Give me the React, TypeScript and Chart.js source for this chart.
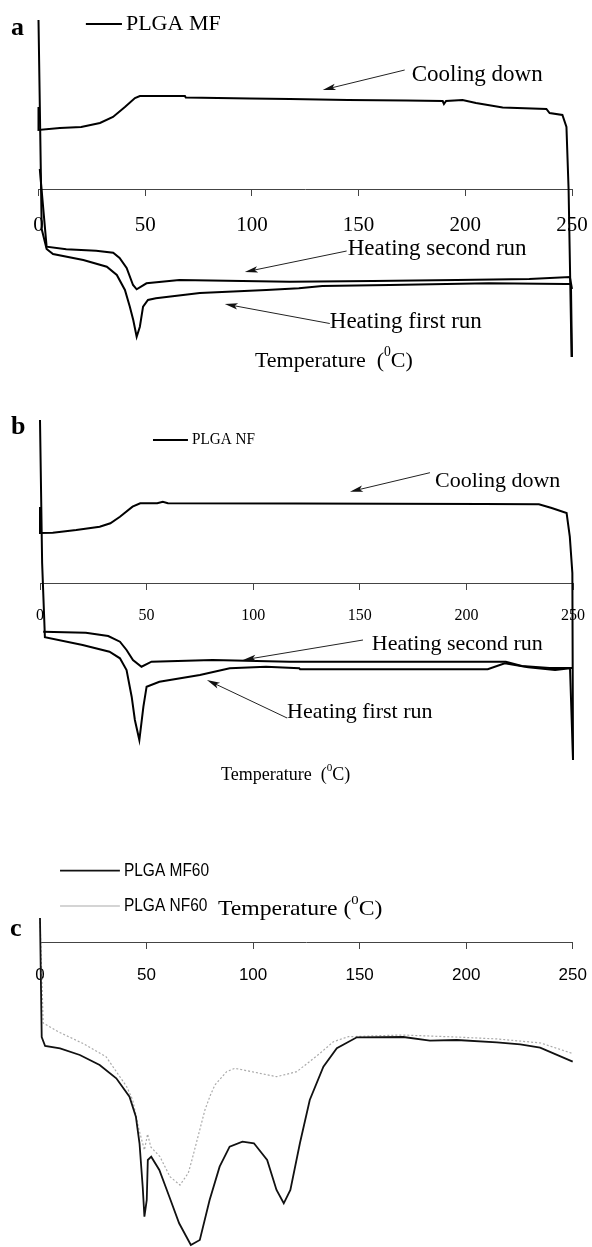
import React, { useEffect, useRef } from "react";
import { Chart, registerables } from "chart.js";

Chart.register(...registerables);

type Pt = [number, number];

// Temperature axis (°C)
const temperatureMin = 0;
const temperatureMax = 250;
const temperatureStep = 50;

// Heat flow is in arbitrary units; 0 lies on the temperature axis, endotherm down.

// (a) PLGA MF
const mfCooling: Pt[] = [
  [0, 82], [0, 59], [10, 61], [20, 62], [28.8, 66], [34.9, 72], [40.5, 82], [45.2, 91], [47.5, 93],
  [68.6, 93], [69, 91.5], [99, 90.5], [117.7, 90], [145, 89], [172.5, 88.5], [189.4, 88], [190, 85],
  [191, 88], [198.7, 89], [205, 86], [217.5, 81.5], [238, 80], [239.5, 76], [245.5, 74], [247.4, 62],
  [248.4, 0], [249.8, -168],
];
const mfHeatingSecond: Pt[] = [
  [0.6, 20], [3.8, -57.7], [13, -60.3], [27, -61.7], [35, -63.7], [38, -69], [41.3, -79], [44.3, -96],
  [46, -100.3], [50.6, -94.3], [66, -91], [117.7, -92.7], [156.6, -92], [196, -91], [230, -90],
  [249, -88], [250, -100],
];
const mfHeatingFirst: Pt[] = [
  [0, 169], [1.5, -40], [3.8, -60], [6.8, -65], [21, -71], [32, -77.7], [36.7, -86], [40.5, -101],
  [42.8, -117.7], [44.4, -131], [46, -147.7], [47.5, -137.7], [49, -117.7], [51.3, -111], [55, -109.3],
  [75.6, -104], [106.8, -101], [122, -99.3], [133, -97], [164.6, -96], [211, -94.3], [247, -95],
  [249.5, -95], [250, -168],
];

// (b) PLGA NF
const nfCooling: Pt[] = [
  [0, 76], [0, 50], [6, 50.3], [17, 53], [28, 56.3], [33, 59.7], [37.5, 66.3], [43.4, 76.3], [47, 79.7],
  [55, 79.7], [57.6, 81.3], [60, 79.7], [120, 79.5], [207.5, 79], [234, 78.7], [240, 75], [247, 70],
  [248.5, 46.3], [249.7, 10], [250, -177],
];
const nfHeatingSecond: Pt[] = [
  [1.5, -48.7], [21.5, -49.7], [32, -53], [37.5, -58.7], [40.6, -67], [43.6, -77], [47.6, -83.7],
  [52.3, -78.7], [81, -77], [117, -78.7], [218.5, -78.7], [226, -83], [239, -85], [250, -85],
];
const nfHeatingFirst: Pt[] = [
  [0, 163], [1, 20], [2.3, -54.3], [20, -62], [32.6, -68.7], [37.5, -75.3], [40.6, -87], [43, -113.7],
  [44.5, -137], [46.6, -157], [48.5, -123.7], [50, -103.7], [56, -98.7], [75, -92], [89, -85.3],
  [106, -83.7], [121.6, -85.3], [122, -86.3], [210, -86.3], [218, -80.3], [229, -84.3], [241.6, -87],
  [248.6, -85.3], [250, -177],
];

// (c) PLGA MF60 / NF60
const mf60: Pt[] = [
  [0, 24], [0.8, -95], [2.4, -104], [9.4, -106.3], [18.7, -113], [28, -123], [35.8, -136.3], [42, -154.7],
  [45, -174.7], [46.7, -201.3], [48.2, -244.7], [49, -274.7], [50.1, -258], [50.6, -218], [52.2, -214.7],
  [56, -228], [60.7, -254.7], [65.3, -281.3], [70.8, -303], [75, -298], [79.6, -258], [84.3, -224.7],
  [89, -204.7], [95, -199.7], [100.4, -201.3], [106.6, -218], [111, -248], [114.4, -261.3], [117.5, -248],
  [122, -201], [126.6, -158], [133, -124.7], [139.3, -106.3], [148.7, -95.3], [170.5, -95], [183, -98.7],
  [195.6, -98], [214.4, -100.3], [225.4, -102.3], [234.7, -105.7], [250, -119.7],
];
const nf60: Pt[] = [
  [0, 24], [1.5, -81], [8.5, -89.7], [20, -101.3], [31, -114.7], [40.7, -144.7], [43.5, -158], [46.5, -188],
  [49, -208], [50.5, -192], [52, -205], [56.3, -214.7], [61, -234.7], [65.7, -243], [69.6, -231],
  [71.3, -218], [77.4, -168], [80, -153], [82.1, -143], [87.6, -129.7], [91.5, -126.3], [111, -134.7],
  [120.5, -129.7], [131.4, -111.3], [137.7, -99.7], [144.7, -94.7], [170, -93], [195, -95], [215, -97],
  [235, -101], [249.6, -111.3],
];

const SERIF = "'Liberation Serif', 'Times New Roman', serif";
const SANS = "'Liberation Sans', Arial, sans-serif";

type Part = { t: string; sup?: boolean };
type Note =
  | { kind: "text"; x: number; y: number; parts: Part[]; family: string; size: number; bold?: boolean; sx?: number }
  | { kind: "arrow"; x1: number; y1: number; x2: number; y2: number }
  | { kind: "key"; x1: number; x2: number; y: number; ds: number; text: string; family: string; size: number; sx?: number };

const tempLabel: Part[] = [{ t: "Temperature  (" }, { t: "0", sup: true }, { t: "C)" }];

function drawParts(
  ctx: CanvasRenderingContext2D, x: number, y: number, parts: Part[], family: string, size: number,
  bold?: boolean, sx = 1,
) {
  ctx.save();
  ctx.translate(x, y);
  ctx.scale(sx, 1);
  let cx = 0;
  ctx.textBaseline = "middle";
  ctx.textAlign = "left";
  ctx.fillStyle = "#000";
  for (const p of parts) {
    const s = p.sup ? size * 0.62 : size;
    ctx.font = `${bold ? "bold " : ""}${s}px ${family}`;
    ctx.fillText(p.t, cx, p.sup ? -size * 0.38 : 0);
    cx += ctx.measureText(p.t).width;
  }
  ctx.restore();
}

function notesPlugin(notes: Note[]) {
  return {
    id: "notes",
    afterDraw(chart: any) {
      const ctx: CanvasRenderingContext2D = chart.ctx;
      const xs = chart.scales.x;
      const ys = chart.scales.y;
      const px = (v: number) => xs.getPixelForValue(v);
      const py = (v: number) => ys.getPixelForValue(v);
      ctx.save();
      for (const n of notes) {
        if (n.kind === "arrow") {
          const x1 = px(n.x1), y1 = py(n.y1), x2 = px(n.x2), y2 = py(n.y2);
          const a = Math.atan2(y2 - y1, x2 - x1);
          const L = 13, W = 3.2;
          ctx.strokeStyle = "#222";
          ctx.lineWidth = 1;
          ctx.beginPath();
          ctx.moveTo(x1, y1);
          ctx.lineTo(x2 - Math.cos(a) * 6, y2 - Math.sin(a) * 6);
          ctx.stroke();
          ctx.fillStyle = "#111";
          ctx.beginPath();
          ctx.moveTo(x2, y2);
          ctx.lineTo(x2 - L * Math.cos(a) + W * Math.sin(a), y2 - L * Math.sin(a) - W * Math.cos(a));
          ctx.lineTo(x2 - (L - 3) * Math.cos(a), y2 - (L - 3) * Math.sin(a));
          ctx.lineTo(x2 - L * Math.cos(a) - W * Math.sin(a), y2 - L * Math.sin(a) + W * Math.cos(a));
          ctx.closePath();
          ctx.fill();
        } else if (n.kind === "key") {
          const ds = chart.data.datasets[n.ds];
          ctx.strokeStyle = ds.borderColor;
          ctx.lineWidth = ds.borderWidth;
          ctx.setLineDash([]);
          ctx.beginPath();
          ctx.moveTo(px(n.x1), py(n.y));
          ctx.lineTo(px(n.x2), py(n.y));
          ctx.stroke();
          drawParts(ctx, px(n.x2) + 4, py(n.y), [{ t: n.text }], n.family, n.size, false, n.sx || 1);
        } else {
          drawParts(ctx, px(n.x), py(n.y), n.parts, n.family, n.size, n.bold, n.sx || 1);
        }
      }
      ctx.restore();
    },
  };
}

type PanelDef = {
  top: number;
  height: number;
  pad: { left: number; right: number; top: number; bottom: number };
  yMin: number;
  yMax: number;
  tickFont: { family: string; size: number };
  tickPadding: number;
  series: { label: string; data: Pt[]; color: string; width: number; dash?: number[] }[];
  notes: Note[];
};

const panels: PanelDef[] = [
  {
    top: 0,
    height: 392,
    pad: { left: 38.5, right: 20, top: 19, bottom: 33 },
    yMin: -170,
    yMax: 170,
    tickFont: { family: SERIF, size: 21 },
    tickPadding: 18,
    series: [
      { label: "PLGA MF", data: mfCooling, color: "#000", width: 2 },
      { label: "Heating second run", data: mfHeatingSecond, color: "#000", width: 2 },
      { label: "Heating first run", data: mfHeatingFirst, color: "#000", width: 2 },
    ],
    notes: [
      { kind: "text", x: -12.9, y: 161, parts: [{ t: "a" }], family: SERIF, size: 26, bold: true },
      { kind: "key", x1: 22.2, x2: 39.1, y: 165, ds: 0, text: "PLGA MF", family: SERIF, size: 22 },
      { kind: "arrow", x1: 171.6, y1: 119, x2: 133.2, y2: 99 },
      { kind: "text", x: 174.9, y: 114, parts: [{ t: "Cooling down" }], family: SERIF, size: 23 },
      { kind: "arrow", x1: 144.4, y1: -62, x2: 96.7, y2: -83 },
      { kind: "text", x: 144.9, y: -60, parts: [{ t: "Heating second run" }], family: SERIF, size: 23 },
      { kind: "arrow", x1: 136.5, y1: -134.5, x2: 87.3, y2: -115 },
      { kind: "text", x: 136.5, y: -133, parts: [{ t: "Heating first run" }], family: SERIF, size: 23 },
      { kind: "text", x: 101.4, y: -172, parts: tempLabel, family: SERIF, size: 22 },
    ],
  },
  {
    top: 392,
    height: 408,
    pad: { left: 40, right: 19, top: 26, bottom: 38 },
    yMin: -179,
    yMax: 165,
    tickFont: { family: SERIF, size: 16 },
    tickPadding: 17,
    series: [
      { label: "PLGA NF", data: nfCooling, color: "#000", width: 2 },
      { label: "Heating second run", data: nfHeatingSecond, color: "#000", width: 2 },
      { label: "Heating first run", data: nfHeatingFirst, color: "#000", width: 2 },
    ],
    notes: [
      { kind: "text", x: -13.6, y: 156, parts: [{ t: "b" }], family: SERIF, size: 26, bold: true },
      { kind: "key", x1: 53, x2: 69.4, y: 143, ds: 0, text: "PLGA NF", family: SERIF, size: 16, sx: 0.95 },
      { kind: "arrow", x1: 182.9, y1: 110.3, x2: 145.4, y2: 91.3 },
      { kind: "text", x: 185.3, y: 102, parts: [{ t: "Cooling down" }], family: SERIF, size: 22 },
      { kind: "arrow", x1: 151.5, y1: -57, x2: 95.2, y2: -77 },
      { kind: "text", x: 155.6, y: -61, parts: [{ t: "Heating second run" }], family: SERIF, size: 22 },
      { kind: "arrow", x1: 115.9, y1: -135, x2: 78.3, y2: -97 },
      { kind: "text", x: 115.9, y: -129, parts: [{ t: "Heating first run" }], family: SERIF, size: 22 },
      { kind: "text", x: 84.9, y: -192, parts: tempLabel, family: SERIF, size: 18 },
    ],
  },
  {
    top: 800,
    height: 447,
    pad: { left: 40, right: 19.3, top: 117, bottom: 1 },
    yMin: -304,
    yMax: 25,
    tickFont: { family: SANS, size: 17 },
    tickPadding: 17,
    series: [
      { label: "PLGA MF60", data: mf60, color: "#111", width: 1.8 },
      { label: "PLGA NF60", data: nf60, color: "#aaa", width: 1.2, dash: [2, 2] },
    ],
    notes: [
      { kind: "text", x: -14.1, y: 13, parts: [{ t: "c" }], family: SERIF, size: 26, bold: true },
      { kind: "key", x1: 9.4, x2: 37.5, y: 71.3, ds: 0, text: "PLGA MF60", family: SANS, size: 18, sx: 0.86 },
      { kind: "key", x1: 9.4, x2: 37.5, y: 36, ds: 1, text: "PLGA NF60", family: SANS, size: 18, sx: 0.86 },
      {
        kind: "text", x: 83.5, y: 33, parts: [{ t: "Temperature (" }, { t: "0", sup: true }, { t: "C)" }],
        family: SERIF, size: 21, sx: 1.13,
      },
    ],
  },
];

function Panel({ def }: { def: PanelDef }) {
  const ref = useRef<HTMLCanvasElement | null>(null);
  useEffect(() => {
    if (!ref.current) return;
    const chart = new Chart(ref.current, {
      type: "line",
      data: {
        datasets: def.series.map((s) => ({
          label: s.label,
          data: s.data.map(([x, y]) => ({ x, y })),
          borderColor: s.color,
          borderWidth: s.width,
          borderDash: s.dash || [],
          pointRadius: 0,
          tension: 0,
          fill: false,
          clip: false as any,
        })),
      },
      options: {
        animation: false,
        responsive: false,
        maintainAspectRatio: false,
        devicePixelRatio: 1,
        events: [],
        layout: { padding: def.pad },
        plugins: { legend: { display: false }, tooltip: { enabled: false } },
        scales: {
          x: {
            type: "linear",
            min: temperatureMin,
            max: temperatureMax,
            position: { y: 0 } as any,
            afterFit: (scale: any) => {
              scale.paddingLeft = 0;
              scale.paddingRight = 0;
            },
            ticks: {
              stepSize: temperatureStep,
              color: "#000",
              font: def.tickFont,
              padding: def.tickPadding,
              maxRotation: 0,
              autoSkip: false,
            },
            grid: { drawOnChartArea: false, drawTicks: true, tickLength: 6, color: "#444", lineWidth: 1 },
            border: { display: true, color: "#444", width: 1 },
          },
          y: { type: "linear", min: def.yMin, max: def.yMax, display: false },
        },
      },
      plugins: [notesPlugin(def.notes)],
    });
    return () => chart.destroy();
  }, [def]);
  return (
    <canvas
      ref={ref}
      width={592}
      height={def.height}
      style={{ position: "absolute", left: 0, top: def.top, width: 592, height: def.height, display: "block" }}
    />
  );
}

export default function App() {
  return (
    <div style={{ position: "absolute", left: 0, top: 0, width: 592, height: 1247, background: "#fff", overflow: "hidden" }}>
      {panels.map((p, i) => (
        <Panel key={i} def={p} />
      ))}
    </div>
  );
}
